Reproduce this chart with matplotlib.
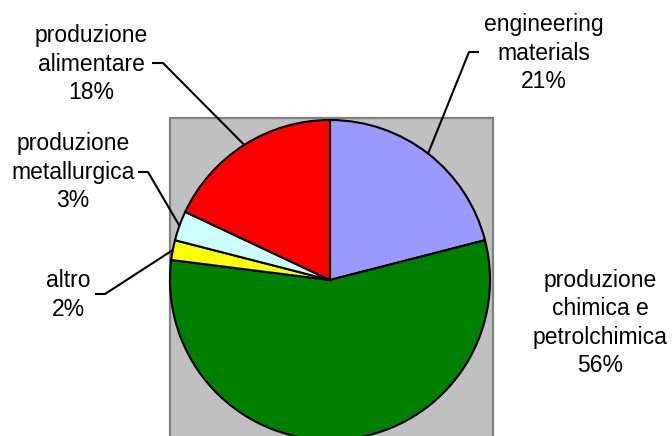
import numpy as np
import matplotlib
matplotlib.use("Agg")
import matplotlib.pyplot as plt
from matplotlib.patches import Rectangle

plt.rcParams['font.family'] = ['Liberation Sans', 'DejaVu Sans']

# data, clockwise from 12 o'clock
labels = ['engineering\nmaterials', 'produzione\nchimica e\npetrolchimica', 'altro',
          'produzione\nmetallurgica', 'produzione\nalimentare']
shares = [21, 56, 2, 3, 18]
colors = ['#9999FF', '#008000', '#FFFF00', '#CCFFFF', '#FF0000']

W, H = 672, 436
fig = plt.figure(figsize=(W / 100, H / 100), dpi=100)
ax = fig.add_axes([0, 0, 1, 1])

cx, cy, r = 330, 156, 160

# gray plot area
ax.add_patch(Rectangle((170, -10), 323, 328, facecolor='#C0C0C0',
                       edgecolor='#808080', linewidth=1.6, zorder=0))

wedges, _ = ax.pie(shares, colors=colors, startangle=90, counterclock=False,
                   center=(cx, cy), radius=r, frame=True,
                   wedgeprops=dict(edgecolor='black', linewidth=1.5))
ax.set_xlim(0, W)
ax.set_ylim(0, H)
ax.set_aspect('equal')
ax.axis('off')

# label positions (text center, elbow point) in pixel coords, y from top
layout = {
    0: dict(text=(544, 53), elbow=[(479, 52), (469, 52)]),
    1: dict(text=(600, 323), elbow=None),
    2: dict(text=(68, 295), elbow=[(95, 294), (105, 294)]),
    3: dict(text=(73, 172), elbow=[(138, 172), (148, 172)]),
    4: dict(text=(91, 64), elbow=[(152, 63), (163, 63)]),
}

for i, w in enumerate(wedges):
    s = f"{labels[i]}\n{shares[i]}%"
    tx, ty = layout[i]['text']
    ax.text(tx, H - ty, s, ha='center', va='center', multialignment='center',
            fontsize=16.5, color='black', linespacing=1.3)
    el = layout[i]['elbow']
    if el:
        mid = np.deg2rad((w.theta1 + w.theta2) / 2)
        ex, ey = cx + r * np.cos(mid), cy + r * np.sin(mid)
        xs = [el[0][0], el[1][0], ex]
        ys = [H - el[0][1], H - el[1][1], ey]
        ax.plot(xs, ys, color='black', linewidth=1.5, solid_capstyle='butt', zorder=5)

fig.savefig('out.png', dpi=100)
